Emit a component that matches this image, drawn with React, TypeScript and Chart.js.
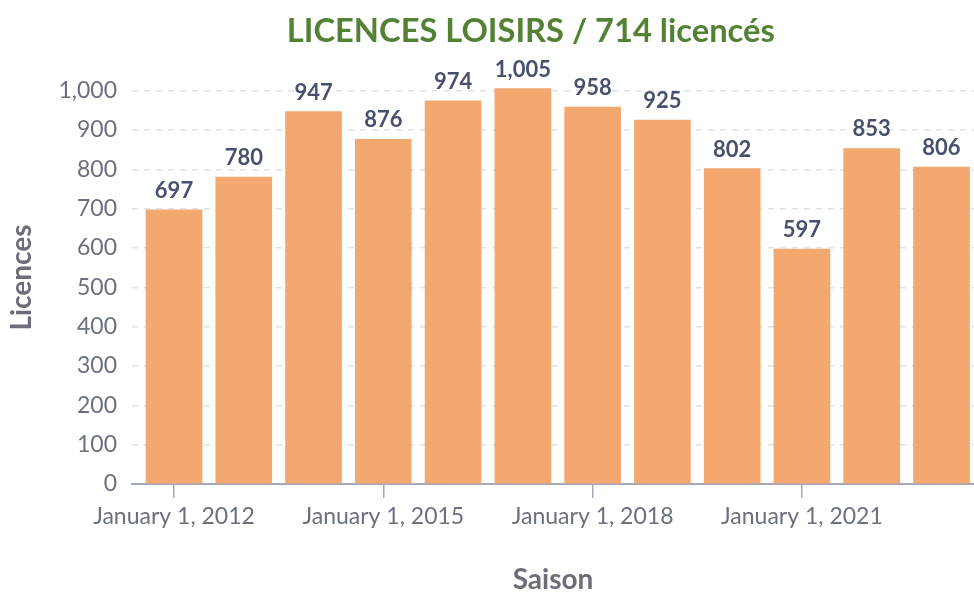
import React, { useEffect, useRef } from "react";
import { Chart, registerables } from "chart.js";

Chart.register(...registerables);

const seasons: number[] = [2012, 2013, 2014, 2015, 2016, 2017, 2018, 2019, 2020, 2021, 2022, 2023];
const licences: number[] = [697, 780, 947, 876, 974, 1005, 958, 925, 802, 597, 853, 806];
const tickYears: number[] = [2012, 2015, 2018, 2021];
const yTicks: number[] = [0, 100, 200, 300, 400, 500, 600, 700, 800, 900, 1000];
const titleText = "LICENCES LOISIRS / 714 licencés";
const xTitle = "Saison";
const yTitle = "Licences";

const BAR = "#F2A86E";
const LABEL = "#48506e";
const TICK = "#6a7080";
const AXIS_TITLE = "#6b6e78";
const AXIS_LINE = "#a3a9bd";
const GRID = "#dde2ea";
const TITLE = "#548235";
const FONT = "Lato, 'Open Sans', sans-serif";

const valueLabels = {
  id: "valueLabels",
  afterDatasetsDraw(chart: any) {
    const ctx = chart.ctx;
    const meta = chart.getDatasetMeta(0);
    ctx.save();
    ctx.font = `bold 22px ${FONT}`;
    ctx.fillStyle = LABEL;
    ctx.textAlign = "center";
    ctx.textBaseline = "alphabetic";
    meta.data.forEach((el: any, i: number) => {
      ctx.fillText(licences[i].toLocaleString("en-US"), el.x, el.y - 12);
    });
    ctx.restore();
  },
};

const mainTitle = {
  id: "mainTitle",
  afterDraw(chart: any) {
    const ctx = chart.ctx;
    ctx.save();
    ctx.font = `bold 33px ${FONT}`;
    ctx.fillStyle = TITLE;
    ctx.textAlign = "center";
    ctx.textBaseline = "alphabetic";
    ctx.fillText(titleText, chart.width * 0.545, 42, 488);
    ctx.restore();
  },
};

export default function App() {
  const ref = useRef<HTMLCanvasElement | null>(null);
  useEffect(() => {
    if (!ref.current) return;
    const chart = new Chart(ref.current, {
      type: "bar",
      data: {
        datasets: [
          {
            data: seasons.map((s, i) => ({ x: s, y: licences[i] })),
            backgroundColor: BAR,
            borderWidth: 0,
            barThickness: 56,
          },
        ],
      },
      options: {
        responsive: false,
        animation: false,
        layout: { padding: { top: 71, right: 0, left: 0, bottom: 0 } },
        plugins: {
          legend: { display: false },
          title: { display: false },
          tooltip: { enabled: false },
        },
        scales: {
          x: {
            type: "linear",
            min: 2011.398,
            max: 2023.466,
            offset: false,
            afterBuildTicks: (s: any) => {
              s.ticks = tickYears.map((v) => ({ value: v }));
            },
            afterFit: (s: any) => {
              s.height = 108;
            },
            ticks: {
              autoSkip: false,
              maxRotation: 0,
              padding: 5,
              color: TICK,
              font: { family: FONT, size: 23 },
              callback: (v: any) => "January 1, " + v,
            },
            grid: {
              offset: false,
              drawOnChartArea: false,
              drawTicks: true,
              tickLength: 14,
              color: AXIS_LINE,
              lineWidth: 1.5,
            },
            border: { display: true, color: AXIS_LINE, width: 2 },
            title: {
              display: true,
              text: xTitle,
              color: AXIS_TITLE,
              font: { family: FONT, size: 28, weight: "bold", lineHeight: 0.85 },
              padding: { top: 20, bottom: 0 },
            },
          },
          y: {
            min: 0,
            max: 1050,
            afterBuildTicks: (s: any) => {
              s.ticks = yTicks.map((v) => ({ value: v }));
            },
            afterFit: (s: any) => {
              s.width = 132;
            },
            ticks: {
              padding: 15,
              color: TICK,
              font: { family: FONT, size: 23 },
              callback: (v: any) => Number(v).toLocaleString("en-US"),
            },
            grid: {
              drawTicks: false,
              tickLength: 0,
              color: GRID,
              lineWidth: 1.5,
            },
            border: { display: false, dash: [6, 6] },
            title: {
              display: true,
              text: yTitle,
              color: AXIS_TITLE,
              font: { family: FONT, size: 28, weight: "bold", lineHeight: 1 },
              padding: { top: 8, bottom: 0 },
            },
          },
        },
      },
      plugins: [valueLabels, mainTitle],
    } as any);
    return () => chart.destroy();
  }, []);
  return (
    <div style={{ position: "absolute", left: 0, top: 0, width: 974, height: 592, background: "#fff" }}>
      <canvas ref={ref} width={974} height={592} style={{ display: "block" }} />
    </div>
  );
}
